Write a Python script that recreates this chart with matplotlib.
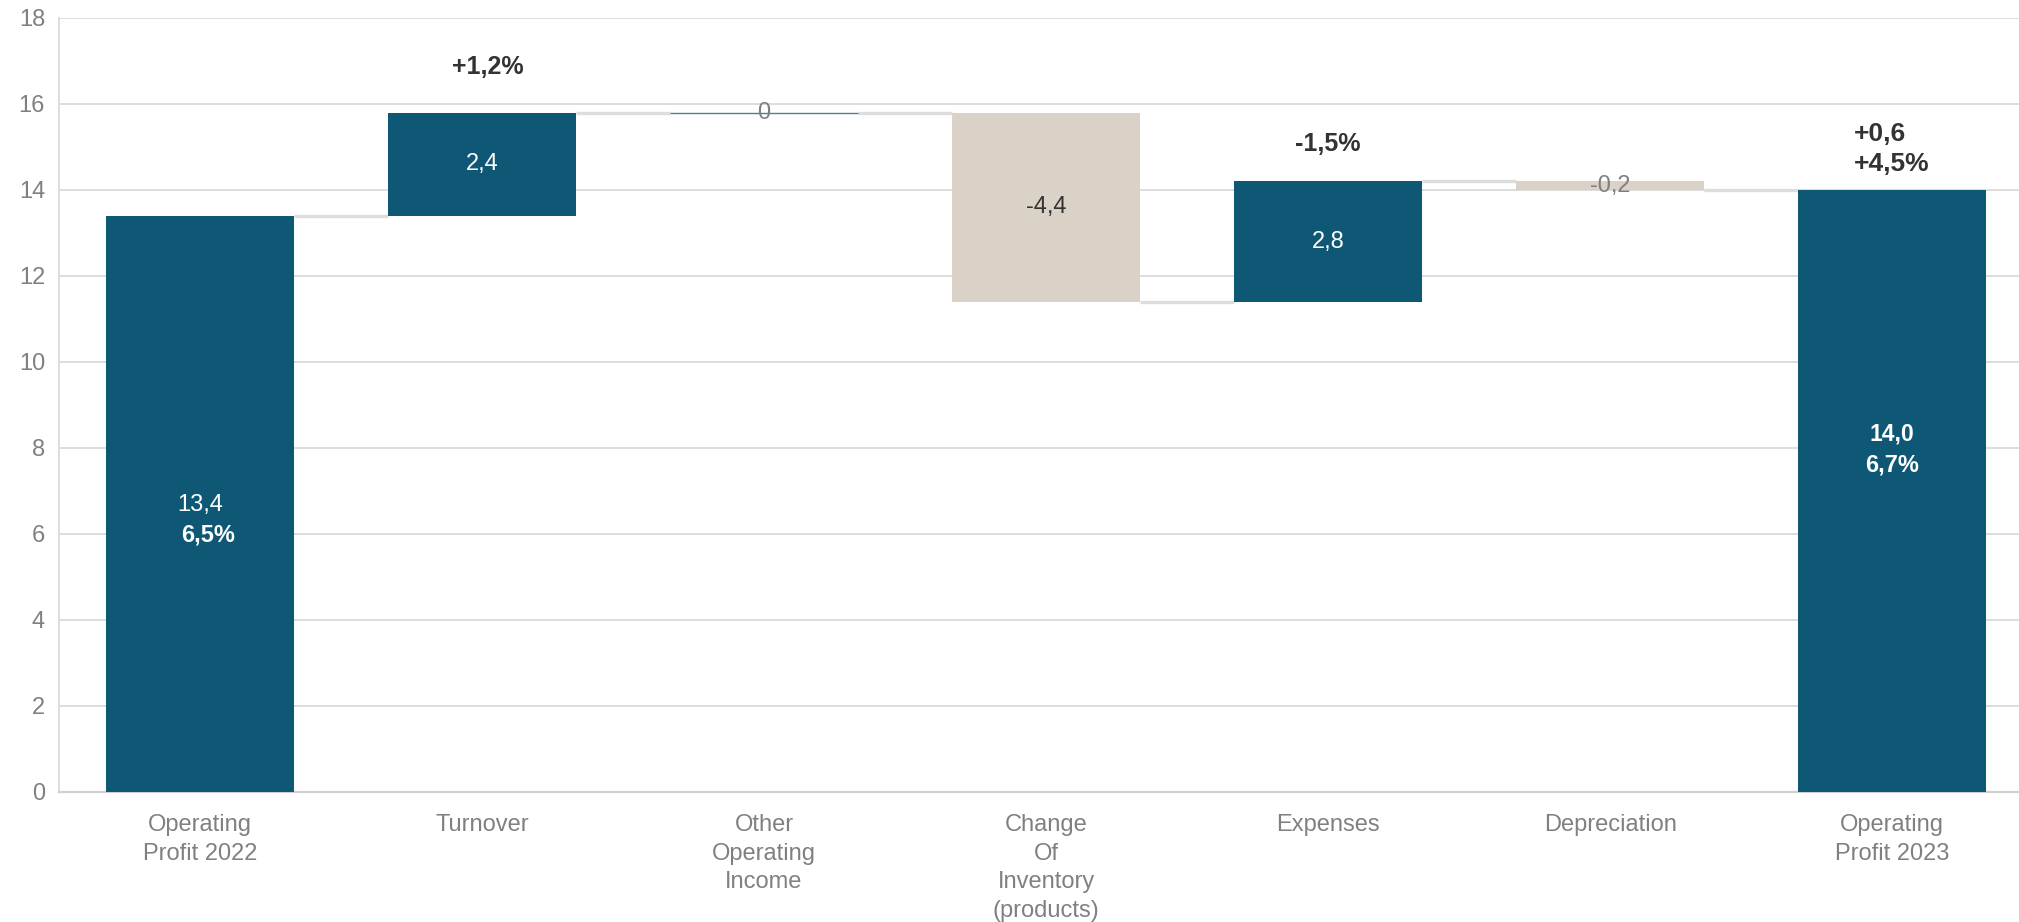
import numpy as np
import matplotlib.pyplot as plt

# categorias e variações do resultado operacional (mil)
categorias = ["Operating\nProfit 2022", "Turnover", "Other\nOperating\nIncome",
              "Change\nOf\nInventory\n(products)", "Expenses", "Depreciation",
              "Operating\nProfit 2023"]
inicio = 13.4
variacoes = [2.4, 0.0, -4.4, 2.8, -0.2]
fim = 14.0
margem_2022 = "6,5%"
margem_2023 = "6,7%"
var_margem_turnover = "+1,2%"
var_margem_expenses = "-1,5%"
var_total = "+0,6"
var_total_pct = "+4,5%"

AZUL = "#0E5876"
BEGE = "#DAD2C6"
CINZA_TXT = "#808080"
ESCURO = "#333333"
GRADE = "#DDDDDD"
NARROW = ["Liberation Sans Narrow", "Liberation Sans", "DejaVu Sans"]
BOLD = ["Liberation Sans", "DejaVu Sans"]

def fmt(v):
    return f"{v:.1f}".replace(".", ",")

# bases e alturas da cascata
acumulado = np.concatenate([[inicio], inicio + np.cumsum(variacoes)])
bases = [0] + [min(acumulado[i], acumulado[i + 1]) for i in range(len(variacoes))] + [0]
alturas = [inicio] + [abs(v) for v in variacoes] + [fim]
cores = [AZUL] + [AZUL if v >= 0 else BEGE for v in variacoes] + [AZUL]
niveis = list(acumulado)  # nível do conector depois de cada barra

fig = plt.figure(figsize=(20.19, 9.22), dpi=100)
ax = fig.add_axes([0.0292, 0.141, 0.9708, 0.8395])

x = np.arange(len(categorias))
w = 0.667
ax.bar(x, alturas, bottom=bases, width=w, color=cores, zorder=3)
# barra de valor zero aparece como uma linha
ax.bar(x[2], 0, bottom=acumulado[1], width=w, color="none",
       edgecolor="#4F7F95", linewidth=1.0, zorder=4)

# conectores entre barras
for i in range(len(categorias) - 1):
    ax.plot([x[i] + w / 2, x[i + 1] - w / 2], [niveis[i], niveis[i]],
            color=GRADE, lw=2.4, zorder=2, solid_capstyle="butt")

# rótulos dentro das barras
ax.text(x[0], 6.67, fmt(inicio), ha="center", va="center", color="white",
        fontsize=17, family=NARROW, zorder=5)
ax.text(x[0] + 0.03, 5.98, margem_2022, ha="center", va="center", color="white",
        fontsize=17, fontweight="bold", family=BOLD, zorder=5)
for i, v in enumerate(variacoes, start=1):
    meio = bases[i] + alturas[i] / 2
    if v == 0:
        ax.text(x[i], acumulado[i - 1], "0", ha="center", va="center",
                color=CINZA_TXT, fontsize=17, family=NARROW, zorder=5)
    elif abs(v) < 0.5:
        ax.text(x[i], meio, fmt(v), ha="center", va="center",
                color=CINZA_TXT, fontsize=17, family=NARROW, zorder=5)
    else:
        cor = "white" if v > 0 else ESCURO
        ax.text(x[i], meio, fmt(v), ha="center", va="center",
                color=cor, fontsize=17, family=NARROW, zorder=5)
ax.text(x[6], 8.33, fmt(fim), ha="center", va="center", color="white",
        fontsize=16.5, fontweight="bold", family=BOLD, zorder=5)
ax.text(x[6], 7.6, margem_2023, ha="center", va="center", color="white",
        fontsize=17, fontweight="bold", family=BOLD, zorder=5)

# variações de margem acima das barras
ax.text(x[1] + 0.02, 16.86, var_margem_turnover, ha="center", va="center",
        color=ESCURO, fontsize=18, fontweight="bold", family=BOLD)
ax.text(x[4], 15.07, var_margem_expenses, ha="center", va="center",
        color=ESCURO, fontsize=18, fontweight="bold", family=BOLD)
ax.text(x[6], 14.95, var_total + "\n" + var_total_pct, ha="center", va="center",
        multialignment="left", linespacing=1.35,
        color=ESCURO, fontsize=19, fontweight="bold", family=BOLD)

# eixos
ax.set_xlim(-0.5, 6.45)
ax.set_ylim(0, 18)
ax.set_yticks(np.arange(0, 19, 2))
ax.set_xticks(x)
ax.set_xticklabels(categorias, linespacing=1.38)
for lbl in ax.get_xticklabels() + ax.get_yticklabels():
    lbl.set_family(NARROW)
    lbl.set_fontsize(17)
    lbl.set_color(CINZA_TXT)
ax.tick_params(axis="x", length=0, pad=16)
ax.tick_params(axis="y", length=0, pad=10)
ax.grid(axis="y", color=GRADE, lw=1.4, zorder=0)
ax.set_axisbelow(True)
for s in ["top", "right"]:
    ax.spines[s].set_visible(False)
ax.spines["left"].set_color(GRADE)
ax.spines["left"].set_linewidth(1.4)
ax.spines["bottom"].set_color("#D0D0D0")
ax.spines["bottom"].set_linewidth(1.6)

plt.savefig("out.png", dpi=100)
